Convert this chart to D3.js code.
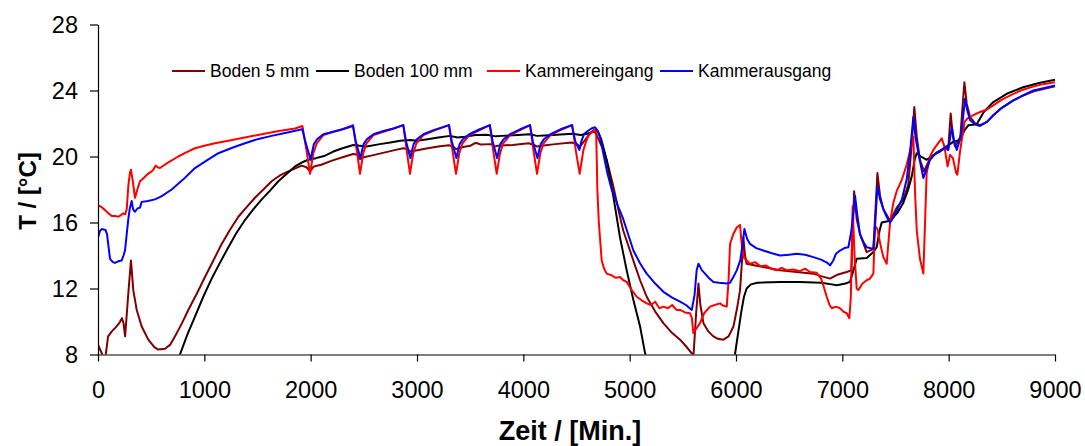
<!DOCTYPE html>
<html><head><meta charset="utf-8">
<script src="https://cdn.jsdelivr.net/npm/d3@7"></script>
<style>
html,body{margin:0;padding:0;background:#fff;}
svg{display:block;font-family:Arial,"Liberation Sans",sans-serif;}
</style></head>
<body><svg id="chart" width="1085" height="446"></svg>
<script>
// ---- data (time in minutes, temperature in °C) ----
const seriesNames = ["Boden 5 mm", "Boden 100 mm", "Kammereingang", "Kammerausgang"];
const seriesColors = ["#800000", "#000000", "#ff0000", "#0000ff"];
const xTicks = [0,1000,2000,3000,4000,5000,6000,7000,8000,9000];
const yTicks = [8,12,16,20,24,28];

const boden5 = [[0,8.6],[40,8.0],[65,7.6],[95,9.1],[130,9.4],[160,9.6],[200,9.9],[225,10.2],[240,9.9],[255,9.1],[285,11.7],[310,13.7],[332,11.9],[364,10.7],[411,9.7],[473,8.9],[530,8.45],[567,8.3],[630,8.35],[680,8.6],[724,9.1],[790,9.9],[849,10.7],[930,11.7],[1006,12.7],[1085,13.7],[1163,14.7],[1240,15.55],[1320,16.35],[1400,16.95],[1476,17.5],[1555,18.0],[1633,18.5],[1710,18.85],[1790,19.1],[1860,19.3],[1915,19.45],[1960,19.35],[1994,19.1],[2030,19.4],[2100,19.5],[2200,19.75],[2300,19.95],[2400,20.15],[2440,20.1],[2464,19.85],[2500,19.95],[2600,20.1],[2700,20.25],[2800,20.4],[2871,20.5],[2910,20.45],[2934,20.3],[2980,20.35],[3100,20.5],[3200,20.6],[3300,20.68],[3340,20.6],[3367,20.45],[3410,20.55],[3500,20.65],[3540,20.8],[3560,20.82],[3600,20.72],[3700,20.75],[3730,20.6],[3760,20.65],[3900,20.7],[4050,20.8],[4100,20.7],[4129,20.6],[4170,20.65],[4300,20.75],[4455,20.85],[4500,20.75],[4533,20.6],[4580,21.0],[4627,21.4],[4659,21.6],[4690,21.3],[4752,20.4],[4800,19.4],[4846,18.2],[4900,16.6],[4940,15.5],[5003,14.3],[5050,13.4],[5098,12.5],[5160,11.5],[5240,10.6],[5317,9.9],[5400,9.3],[5474,8.9],[5530,8.5],[5584,8.07],[5600,7.9],[5625,10.5],[5647,12.3],[5665,11.0],[5694,9.9],[5740,9.4],[5787,9.1],[5830,8.95],[5882,8.9],[5930,9.1],[5976,9.7],[6010,10.8],[6038,11.9],[6060,14.0],[6069,15.1],[6085,14.0],[6100,13.5],[6180,13.4],[6257,13.3],[6414,13.1],[6570,13.0],[6727,12.9],[6800,12.75],[6884,12.6],[6960,12.85],[7041,13.0],[7085,13.1],[7111,17.9],[7135,16.2],[7166,15.3],[7229,14.2],[7292,14.4],[7330,19.0],[7355,17.6],[7386,16.8],[7449,16.1],[7511,16.9],[7574,17.4],[7620,18.3],[7650,20.5],[7677,23.0],[7700,21.2],[7730,19.8],[7768,19.1],[7825,19.9],[7900,20.3],[7966,20.5],[7995,20.4],[8019,22.6],[8040,21.2],[8060,20.6],[8110,21.2],[8130,23.0],[8148,24.5],[8170,23.2],[8201,22.4],[8250,22.0],[8295,21.9],[8360,22.1],[8420,22.5],[8500,22.95],[8608,23.4],[8700,23.7],[8800,23.95],[8900,24.1],[9000,24.25]];

const boden100 = [[600,5.2],[700,6.8],[771,8.0],[840,9.2],[912,10.3],[990,11.5],[1069,12.6],[1150,13.6],[1226,14.5],[1300,15.35],[1382,16.15],[1460,16.8],[1540,17.4],[1620,17.95],[1696,18.5],[1775,18.95],[1853,19.4],[1920,19.65],[1978,19.8],[2050,19.9],[2135,20.05],[2213,20.3],[2300,20.5],[2401,20.7],[2460,20.65],[2527,20.6],[2650,20.75],[2750,20.85],[2840,20.95],[2934,21.0],[3000,20.95],[3100,21.05],[3200,21.15],[3311,21.25],[3380,21.15],[3450,21.2],[3550,21.3],[3655,21.32],[3740,21.22],[3800,21.25],[3950,21.3],[4060,21.35],[4130,21.25],[4200,21.28],[4350,21.33],[4460,21.38],[4540,21.3],[4600,21.38],[4660,21.5],[4700,21.5],[4730,21.1],[4784,19.8],[4846,17.6],[4909,15.1],[4972,13.1],[5035,11.3],[5098,9.7],[5145,8.07],[5250,6.5],[5400,5.2],[5600,4.6],[5800,5.0],[5920,6.2],[5990,8.0],[6020,9.3],[6050,10.6],[6075,11.5],[6100,12.0],[6140,12.25],[6200,12.35],[6414,12.4],[6600,12.4],[6800,12.35],[6900,12.25],[6947,12.2],[7030,12.3],[7072,12.4],[7100,13.0],[7135,13.8],[7229,13.85],[7290,14.2],[7323,14.5],[7350,15.5],[7370,16.0],[7449,16.1],[7520,16.6],[7574,17.2],[7620,18.0],[7653,18.8],[7680,19.8],[7699,20.2],[7740,20.0],[7793,19.8],[7860,20.1],[7919,20.3],[7980,20.6],[8045,20.9],[8107,21.0],[8150,21.6],[8186,21.9],[8264,21.95],[8330,22.7],[8420,23.3],[8546,23.8],[8700,24.2],[8850,24.45],[9000,24.65]];

const kammerEin = [[0,17.06],[30,16.95],[66,16.75],[100,16.55],[129,16.4],[160,16.4],[191,16.35],[215,16.45],[238,16.55],[255,16.5],[270,16.8],[285,18.2],[300,19.0],[310,19.2],[325,18.6],[348,17.5],[370,18.0],[395,18.5],[430,18.7],[470,18.95],[505,19.1],[520,19.2],[542,19.45],[560,19.35],[583,19.3],[650,19.6],[755,20.0],[830,20.25],[912,20.5],[1000,20.65],[1100,20.8],[1226,20.95],[1380,21.15],[1540,21.35],[1700,21.55],[1853,21.7],[1922,21.85],[1960,20.4],[1994,18.95],[2010,19.6],[2025,20.2],[2057,20.8],[2119,21.3],[2213,21.5],[2300,21.65],[2398,21.9],[2435,20.3],[2464,18.95],[2480,19.6],[2495,20.2],[2525,20.8],[2590,21.3],[2685,21.5],[2780,21.7],[2871,21.9],[2905,20.3],[2934,18.95],[2950,19.6],[2965,20.2],[2995,20.8],[3060,21.3],[3155,21.55],[3301,21.9],[3335,20.3],[3367,18.95],[3383,19.6],[3398,20.2],[3428,20.8],[3492,21.3],[3590,21.6],[3685,21.9],[3718,20.3],[3750,18.95],[3766,19.6],[3781,20.2],[3811,20.8],[3875,21.3],[3970,21.6],[4063,21.9],[4097,20.3],[4129,18.95],[4145,19.6],[4160,20.2],[4190,20.8],[4255,21.3],[4350,21.6],[4461,21.9],[4495,20.3],[4530,18.95],[4548,19.7],[4565,20.4],[4600,21.1],[4627,21.4],[4684,21.65],[4690,20.0],[4696,18.0],[4710,16.0],[4737,13.7],[4760,13.2],[4784,12.9],[4830,12.8],[4870,12.65],[4909,12.7],[4940,12.5],[4972,12.4],[5020,11.9],[5066,11.5],[5110,11.3],[5160,11.1],[5200,11.0],[5240,11.2],[5280,10.8],[5317,10.9],[5360,10.8],[5400,11.0],[5440,10.7],[5474,10.7],[5520,10.55],[5568,10.5],[5585,10.2],[5599,9.3],[5630,9.6],[5662,9.9],[5700,10.5],[5756,10.9],[5800,11.0],[5850,11.1],[5880,10.95],[5913,10.9],[5930,12.5],[5944,14.7],[5975,15.3],[6007,15.7],[6038,15.85],[6055,14.6],[6069,13.9],[6100,13.7],[6132,13.5],[6180,13.6],[6230,13.35],[6280,13.4],[6330,13.2],[6383,13.1],[6430,13.25],[6480,13.1],[6540,13.15],[6600,13.05],[6650,13.2],[6696,13.0],[6759,12.95],[6800,12.6],[6821,12.2],[6853,11.5],[6880,11.0],[6900,10.8],[6940,10.9],[6978,10.8],[7010,10.6],[7041,10.5],[7066,10.2],[7080,11.5],[7097,17.0],[7115,14.0],[7135,12.0],[7150,11.9],[7190,12.3],[7229,12.5],[7260,12.6],[7292,12.9],[7307,15.8],[7330,15.6],[7360,14.6],[7386,13.9],[7417,13.5],[7449,16.0],[7480,17.2],[7511,17.9],[7560,18.6],[7605,19.5],[7640,20.4],[7668,21.2],[7684,17.8],[7700,15.5],[7730,13.8],[7762,12.9],[7793,19.0],[7825,20.0],[7856,20.4],[7900,20.8],[7935,21.1],[7960,20.6],[7990,19.4],[8013,20.1],[8040,19.9],[8070,19.0],[8082,18.9],[8105,20.2],[8123,21.0],[8150,22.1],[8175,22.3],[8230,22.5],[8295,22.7],[8360,22.85],[8420,23.1],[8500,23.45],[8608,23.8],[8700,24.05],[8800,24.25],[8900,24.4],[9000,24.5]];

const kammerAus = [[0,15.1],[20,15.5],[35,15.6],[70,15.55],[85,15.3],[98,14.6],[113,13.8],[140,13.6],[160,13.55],[190,13.65],[223,13.7],[240,14.0],[254,14.3],[270,15.3],[285,16.2],[300,16.9],[317,17.3],[330,16.8],[348,16.65],[370,16.85],[395,16.9],[411,17.25],[470,17.3],[536,17.4],[600,17.6],[693,18.0],[800,18.6],[912,19.3],[1020,19.75],[1132,20.2],[1250,20.5],[1382,20.8],[1500,21.05],[1633,21.25],[1780,21.45],[1922,21.65],[1950,20.9],[2000,19.8],[2015,20.3],[2030,20.75],[2060,21.05],[2119,21.35],[2213,21.5],[2300,21.65],[2398,21.85],[2425,20.9],[2468,19.9],[2483,20.35],[2498,20.75],[2528,21.05],[2590,21.35],[2685,21.55],[2780,21.7],[2871,21.9],[2898,20.9],[2938,19.9],[2953,20.35],[2968,20.75],[2998,21.05],[3060,21.35],[3155,21.6],[3301,21.9],[3328,20.9],[3371,19.9],[3386,20.35],[3401,20.75],[3431,21.05],[3492,21.35],[3590,21.65],[3685,21.9],[3712,20.9],[3754,19.9],[3769,20.35],[3784,20.75],[3814,21.05],[3875,21.35],[3970,21.65],[4063,21.9],[4090,20.9],[4133,19.9],[4148,20.35],[4163,20.75],[4193,21.05],[4255,21.35],[4350,21.65],[4455,21.9],[4490,20.9],[4527,20.4],[4545,20.9],[4570,21.35],[4596,21.5],[4640,21.7],[4674,21.77],[4700,21.55],[4721,21.2],[4752,20.2],[4790,19.0],[4831,18.0],[4846,17.8],[4890,17.0],[4940,16.2],[4990,15.2],[5035,14.3],[5100,13.5],[5160,12.9],[5240,12.3],[5317,11.8],[5400,11.45],[5474,11.2],[5530,11.0],[5584,10.7],[5610,11.6],[5630,13.1],[5647,13.5],[5680,13.1],[5709,12.9],[5750,12.6],[5787,12.4],[5840,12.35],[5913,12.3],[5944,12.35],[5975,12.7],[6007,13.1],[6040,13.7],[6060,14.6],[6079,15.6],[6105,15.0],[6132,14.7],[6190,14.45],[6257,14.3],[6330,14.15],[6414,14.0],[6500,14.05],[6571,14.1],[6650,14.05],[6727,13.9],[6800,13.75],[6860,13.55],[6884,13.4],[6915,13.7],[6940,14.1],[6978,14.3],[7020,14.45],[7057,14.5],[7085,15.5],[7120,17.6],[7140,16.5],[7166,15.3],[7200,14.8],[7229,14.5],[7292,14.4],[7310,16.0],[7330,18.2],[7355,17.4],[7386,16.8],[7420,16.3],[7449,16.0],[7480,16.3],[7511,16.7],[7560,17.4],[7605,18.6],[7640,20.5],[7668,22.4],[7690,21.1],[7715,20.2],[7762,18.7],[7795,19.3],[7825,19.8],[7880,20.2],[7935,20.4],[7975,20.6],[7997,20.4],[8029,21.8],[8050,21.0],[8076,20.4],[8100,20.9],[8123,21.6],[8154,23.5],[8175,22.8],[8201,22.2],[8250,21.95],[8295,21.85],[8360,22.1],[8420,22.5],[8500,22.95],[8608,23.4],[8700,23.7],[8796,24.0],[8900,24.15],[9000,24.3]];

const allSeries = [boden5, boden100, kammerEin, kammerAus];

// ---- layout ----
const L = 98, R = 1055, T = 24.5, B = 354.5;
const svg = d3.select("#chart");
const x = d3.scaleLinear().domain([0, 9000]).range([L, R]);
const y = d3.scaleLinear().domain([8, 28]).range([B, T]);

svg.append("defs").append("clipPath").attr("id", "plotclip")
  .append("rect").attr("x", L).attr("y", T).attr("width", R - L + 2).attr("height", B - T);

const line = d3.line().x(d => x(d[0])).y(d => y(d[1]));
const g = svg.append("g").attr("clip-path", "url(#plotclip)");
allSeries.forEach((s, i) => {
  g.append("path").datum(s).attr("d", line)
    .attr("fill", "none").attr("stroke", seriesColors[i])
    .attr("stroke-width", 2).attr("stroke-linejoin", "round");
});

// axes
const yAxis = svg.append("g").attr("transform", `translate(${L},0)`)
  .call(d3.axisLeft(y).tickValues(yTicks).tickSize(8).tickSizeOuter(0).tickPadding(12).tickFormat(d3.format("d")));
const xAxis = svg.append("g").attr("transform", `translate(0,${B})`)
  .call(d3.axisBottom(x).tickValues(xTicks).tickSize(7).tickSizeOuter(0).tickPadding(20).tickFormat(d3.format("d")));
[yAxis, xAxis].forEach(a => {
  a.selectAll("text").attr("font-size", "23.5px").attr("fill", "#000")
    .attr("font-family", "Arial, 'Liberation Sans', sans-serif");
  a.selectAll("line,path").attr("stroke", "#000").attr("stroke-width", 1.2);
});

// axis titles
svg.append("text").attr("x", 570).attr("y", 440).attr("text-anchor", "middle")
  .attr("font-size", "27px").attr("font-weight", "bold").text("Zeit / [Min.]");
svg.append("text").attr("transform", "translate(36,191) rotate(-90)").attr("text-anchor", "middle")
  .attr("font-size", "24px").attr("font-weight", "bold").text("T / [°C]");

// legend
const legendX = [172, 316, 487, 660];
const legendY = 71;
seriesNames.forEach((n, i) => {
  svg.append("line").attr("x1", legendX[i]).attr("x2", legendX[i] + 33)
    .attr("y1", legendY).attr("y2", legendY).attr("stroke", seriesColors[i]).attr("stroke-width", 2);
  svg.append("text").attr("x", legendX[i] + 38).attr("y", legendY + 6.3)
    .attr("font-size", "17.5px").attr("fill", "#000").text(n);
});
</script></body></html>
